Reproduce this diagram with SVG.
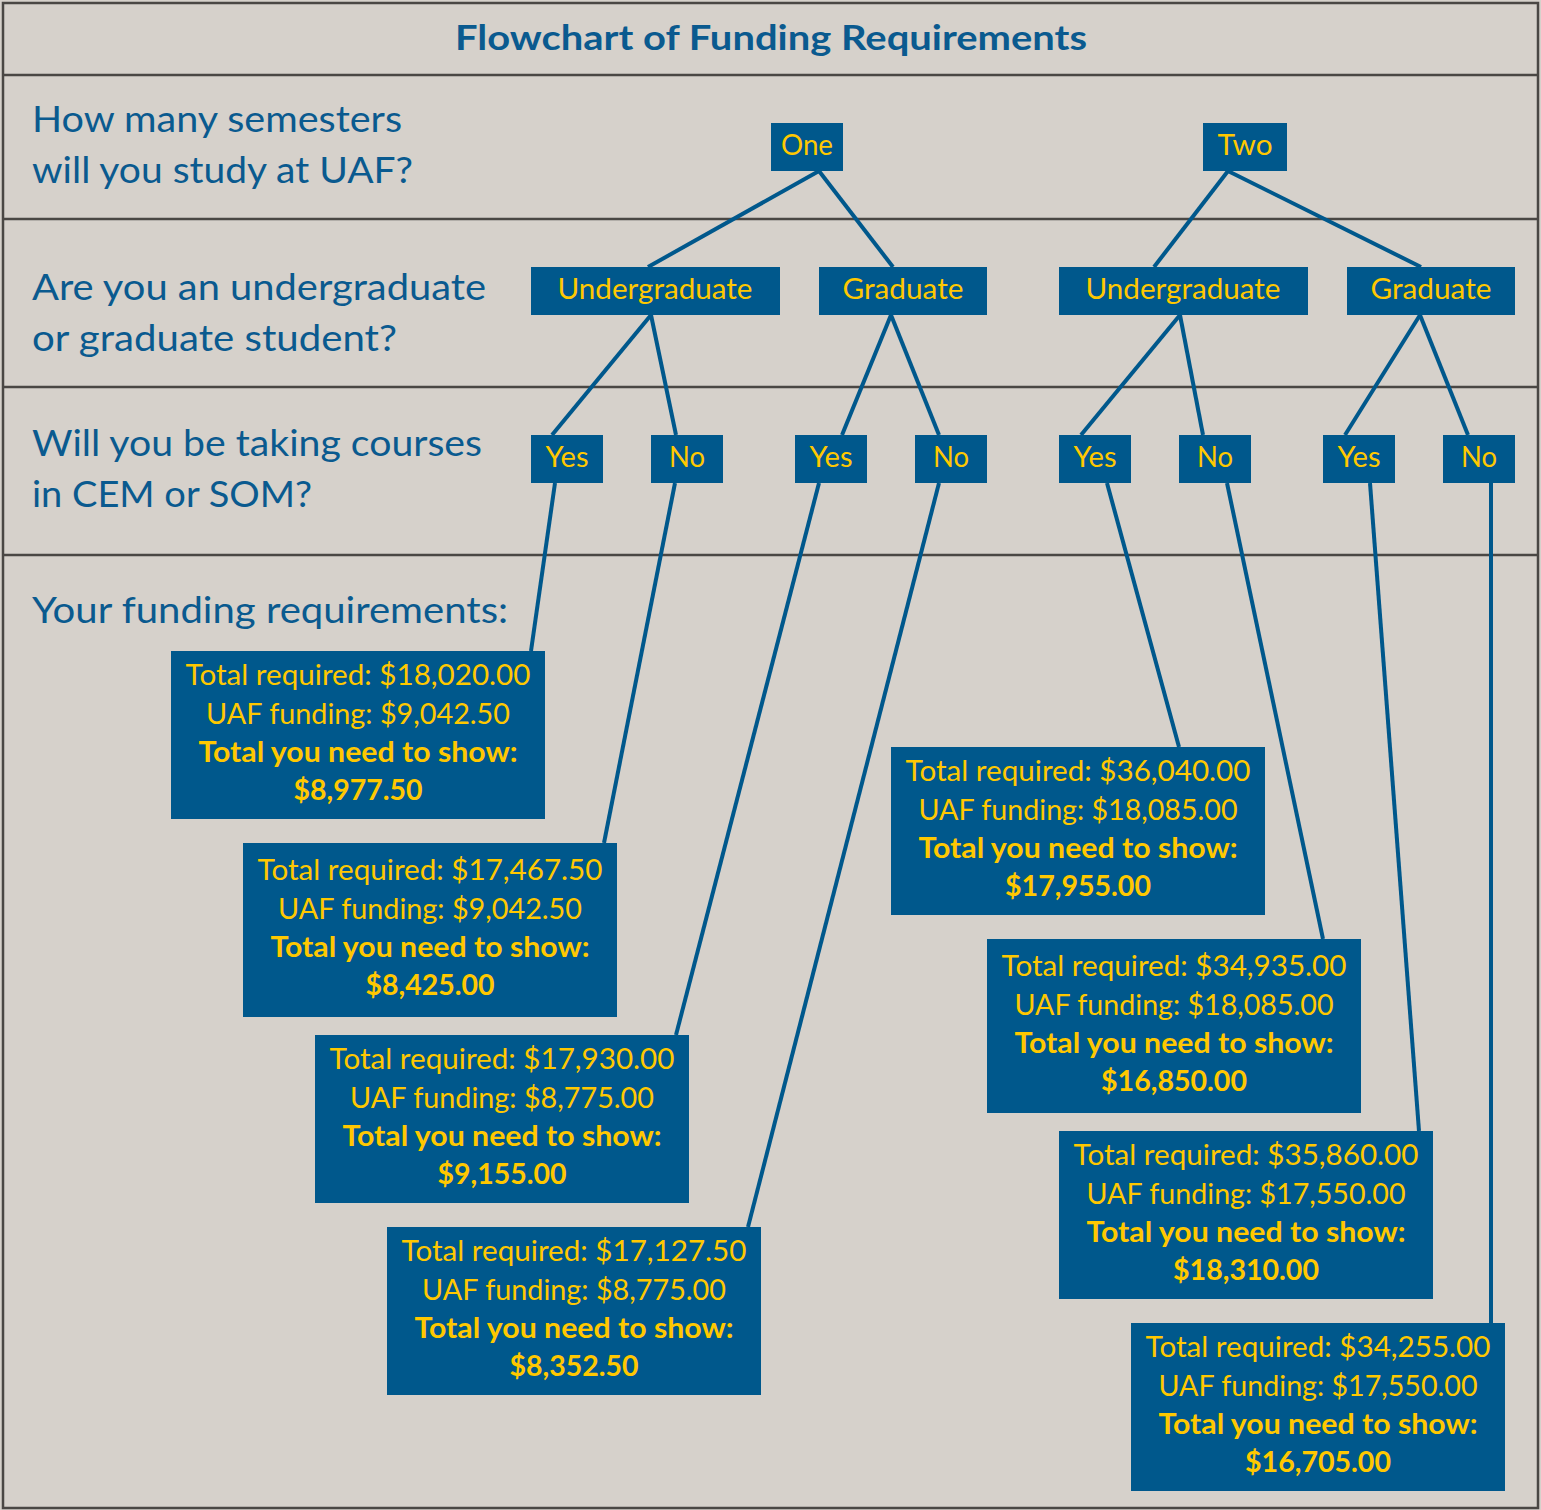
<svg xmlns="http://www.w3.org/2000/svg" width="1541" height="1510" viewBox="0 0 1541 1510">
<style>
.bg{fill:#D6D1CB}
.frame{fill:none;stroke:#4A4744;stroke-width:2.5}
.rule{stroke:#4A4744;stroke-width:2.5}
.box{fill:#00588C}
.lbl{font-family:Lato,"Liberation Sans",sans-serif;fill:#FFC800;font-size:29px;text-anchor:middle}
.b{font-weight:bold}
.q{font-family:Lato,"Liberation Sans",sans-serif;fill:#0A5A8F;font-size:36px}
.title{font-family:Lato,"Liberation Sans",sans-serif;fill:#0A5A8F;font-size:34px;font-weight:bold;text-anchor:middle}
.conn line{stroke:#00588C;stroke-width:4;stroke-linecap:butt}
</style>
<rect class="bg" x="0" y="0" width="1541" height="1510"/>
<rect class="frame" x="3" y="3" width="1535" height="1505"/>
<line class="rule" x1="3" y1="75" x2="1538" y2="75"/>
<line class="rule" x1="3" y1="219" x2="1538" y2="219"/>
<line class="rule" x1="3" y1="387" x2="1538" y2="387"/>
<line class="rule" x1="3" y1="555" x2="1538" y2="555"/>

<text class="title" x="771" y="50" textLength="632" lengthAdjust="spacingAndGlyphs">Flowchart of Funding Requirements</text>

<g id="questions">
<text class="q" x="32" y="132" textLength="370" lengthAdjust="spacingAndGlyphs">How many semesters</text>
<text class="q" x="32" y="183" textLength="381" lengthAdjust="spacingAndGlyphs">will you study at UAF?</text>
<text class="q" x="32" y="300" textLength="454" lengthAdjust="spacingAndGlyphs">Are you an undergraduate</text>
<text class="q" x="32" y="351" textLength="365" lengthAdjust="spacingAndGlyphs">or graduate student?</text>
<text class="q" x="32" y="456" textLength="450" lengthAdjust="spacingAndGlyphs">Will you be taking courses</text>
<text class="q" x="32" y="507" textLength="280" lengthAdjust="spacingAndGlyphs">in CEM or SOM?</text>
<text class="q" x="32" y="623" textLength="476" lengthAdjust="spacingAndGlyphs">Your funding requirements:</text>
</g>

<g id="connectors" class="conn">
<line x1="819" y1="171" x2="648" y2="267"/>
<line x1="819" y1="171" x2="893" y2="267"/>
<line x1="1228" y1="171" x2="1154" y2="267"/>
<line x1="1228" y1="171" x2="1421" y2="267"/>
<line x1="651" y1="315" x2="552" y2="435"/>
<line x1="651" y1="315" x2="676" y2="435"/>
<line x1="891" y1="315" x2="842" y2="435"/>
<line x1="891" y1="315" x2="939" y2="435"/>
<line x1="1180" y1="315" x2="1081" y2="435"/>
<line x1="1180" y1="315" x2="1203" y2="435"/>
<line x1="1420" y1="315" x2="1345" y2="435"/>
<line x1="1420" y1="315" x2="1468" y2="435"/>
<line x1="555" y1="483" x2="531" y2="651"/>
<line x1="675" y1="483" x2="604" y2="843"/>
<line x1="819" y1="483" x2="676" y2="1035"/>
<line x1="939" y1="483" x2="748" y2="1227"/>
<line x1="1107" y1="483" x2="1179" y2="747"/>
<line x1="1227" y1="483" x2="1323" y2="939"/>
<line x1="1370" y1="483" x2="1419" y2="1131"/>
<line x1="1491" y1="483" x2="1491" y2="1323"/>
</g>

<g id="n-one"><rect class="box" x="771" y="123" width="72" height="48"/><text class="lbl" x="807" y="155" textLength="52" lengthAdjust="spacingAndGlyphs">One</text></g>
<g id="n-two"><rect class="box" x="1203" y="123" width="84" height="48"/><text class="lbl" x="1245" y="155" textLength="55" lengthAdjust="spacingAndGlyphs">Two</text></g>

<g id="n-ug1"><rect class="box" x="531" y="267" width="249" height="48"/><text class="lbl" x="655" y="299" textLength="195" lengthAdjust="spacingAndGlyphs">Undergraduate</text></g>
<g id="n-g1"><rect class="box" x="819" y="267" width="168" height="48"/><text class="lbl" x="903" y="299" textLength="121" lengthAdjust="spacingAndGlyphs">Graduate</text></g>
<g id="n-ug2"><rect class="box" x="1059" y="267" width="249" height="48"/><text class="lbl" x="1183" y="299" textLength="195" lengthAdjust="spacingAndGlyphs">Undergraduate</text></g>
<g id="n-g2"><rect class="box" x="1347" y="267" width="168" height="48"/><text class="lbl" x="1431" y="299" textLength="121" lengthAdjust="spacingAndGlyphs">Graduate</text></g>

<g id="n-yes1"><rect class="box" x="531" y="435" width="72" height="48"/><text class="lbl" x="567" y="467" textLength="43" lengthAdjust="spacingAndGlyphs">Yes</text></g>
<g id="n-no1"><rect class="box" x="651" y="435" width="72" height="48"/><text class="lbl" x="687" y="467" textLength="36" lengthAdjust="spacingAndGlyphs">No</text></g>
<g id="n-yes2"><rect class="box" x="795" y="435" width="72" height="48"/><text class="lbl" x="831" y="467" textLength="43" lengthAdjust="spacingAndGlyphs">Yes</text></g>
<g id="n-no2"><rect class="box" x="915" y="435" width="72" height="48"/><text class="lbl" x="951" y="467" textLength="36" lengthAdjust="spacingAndGlyphs">No</text></g>
<g id="n-yes3"><rect class="box" x="1059" y="435" width="72" height="48"/><text class="lbl" x="1095" y="467" textLength="43" lengthAdjust="spacingAndGlyphs">Yes</text></g>
<g id="n-no3"><rect class="box" x="1179" y="435" width="72" height="48"/><text class="lbl" x="1215" y="467" textLength="36" lengthAdjust="spacingAndGlyphs">No</text></g>
<g id="n-yes4"><rect class="box" x="1323" y="435" width="72" height="48"/><text class="lbl" x="1359" y="467" textLength="43" lengthAdjust="spacingAndGlyphs">Yes</text></g>
<g id="n-no4"><rect class="box" x="1443" y="435" width="72" height="48"/><text class="lbl" x="1479" y="467" textLength="36" lengthAdjust="spacingAndGlyphs">No</text></g>

<g id="r1"><rect class="box" x="171" y="651" width="374" height="168"/>
<text class="lbl" x="358" y="685" textLength="345" lengthAdjust="spacingAndGlyphs">Total required: $18,020.00</text>
<text class="lbl" x="358" y="724" textLength="304" lengthAdjust="spacingAndGlyphs">UAF funding: $9,042.50</text>
<text class="lbl b" x="358" y="762" textLength="319" lengthAdjust="spacingAndGlyphs">Total you need to show:</text>
<text class="lbl b" x="358" y="800" textLength="129" lengthAdjust="spacingAndGlyphs">$8,977.50</text></g>

<g id="r2"><rect class="box" x="243" y="843" width="374" height="174"/>
<text class="lbl" x="430" y="880" textLength="345" lengthAdjust="spacingAndGlyphs">Total required: $17,467.50</text>
<text class="lbl" x="430" y="919" textLength="304" lengthAdjust="spacingAndGlyphs">UAF funding: $9,042.50</text>
<text class="lbl b" x="430" y="957" textLength="319" lengthAdjust="spacingAndGlyphs">Total you need to show:</text>
<text class="lbl b" x="430" y="995" textLength="129" lengthAdjust="spacingAndGlyphs">$8,425.00</text></g>

<g id="r3"><rect class="box" x="315" y="1035" width="374" height="168"/>
<text class="lbl" x="502" y="1069" textLength="345" lengthAdjust="spacingAndGlyphs">Total required: $17,930.00</text>
<text class="lbl" x="502" y="1108" textLength="304" lengthAdjust="spacingAndGlyphs">UAF funding: $8,775.00</text>
<text class="lbl b" x="502" y="1146" textLength="319" lengthAdjust="spacingAndGlyphs">Total you need to show:</text>
<text class="lbl b" x="502" y="1184" textLength="129" lengthAdjust="spacingAndGlyphs">$9,155.00</text></g>

<g id="r4"><rect class="box" x="387" y="1227" width="374" height="168"/>
<text class="lbl" x="574" y="1261" textLength="345" lengthAdjust="spacingAndGlyphs">Total required: $17,127.50</text>
<text class="lbl" x="574" y="1300" textLength="304" lengthAdjust="spacingAndGlyphs">UAF funding: $8,775.00</text>
<text class="lbl b" x="574" y="1338" textLength="319" lengthAdjust="spacingAndGlyphs">Total you need to show:</text>
<text class="lbl b" x="574" y="1376" textLength="129" lengthAdjust="spacingAndGlyphs">$8,352.50</text></g>

<g id="r5"><rect class="box" x="891" y="747" width="374" height="168"/>
<text class="lbl" x="1078" y="781" textLength="345" lengthAdjust="spacingAndGlyphs">Total required: $36,040.00</text>
<text class="lbl" x="1078" y="820" textLength="319" lengthAdjust="spacingAndGlyphs">UAF funding: $18,085.00</text>
<text class="lbl b" x="1078" y="858" textLength="319" lengthAdjust="spacingAndGlyphs">Total you need to show:</text>
<text class="lbl b" x="1078" y="896" textLength="146" lengthAdjust="spacingAndGlyphs">$17,955.00</text></g>

<g id="r6"><rect class="box" x="987" y="939" width="374" height="174"/>
<text class="lbl" x="1174" y="976" textLength="345" lengthAdjust="spacingAndGlyphs">Total required: $34,935.00</text>
<text class="lbl" x="1174" y="1015" textLength="319" lengthAdjust="spacingAndGlyphs">UAF funding: $18,085.00</text>
<text class="lbl b" x="1174" y="1053" textLength="319" lengthAdjust="spacingAndGlyphs">Total you need to show:</text>
<text class="lbl b" x="1174" y="1091" textLength="146" lengthAdjust="spacingAndGlyphs">$16,850.00</text></g>

<g id="r7"><rect class="box" x="1059" y="1131" width="374" height="168"/>
<text class="lbl" x="1246" y="1165" textLength="345" lengthAdjust="spacingAndGlyphs">Total required: $35,860.00</text>
<text class="lbl" x="1246" y="1204" textLength="319" lengthAdjust="spacingAndGlyphs">UAF funding: $17,550.00</text>
<text class="lbl b" x="1246" y="1242" textLength="319" lengthAdjust="spacingAndGlyphs">Total you need to show:</text>
<text class="lbl b" x="1246" y="1280" textLength="146" lengthAdjust="spacingAndGlyphs">$18,310.00</text></g>

<g id="r8"><rect class="box" x="1131" y="1323" width="374" height="168"/>
<text class="lbl" x="1318" y="1357" textLength="345" lengthAdjust="spacingAndGlyphs">Total required: $34,255.00</text>
<text class="lbl" x="1318" y="1396" textLength="319" lengthAdjust="spacingAndGlyphs">UAF funding: $17,550.00</text>
<text class="lbl b" x="1318" y="1434" textLength="319" lengthAdjust="spacingAndGlyphs">Total you need to show:</text>
<text class="lbl b" x="1318" y="1472" textLength="146" lengthAdjust="spacingAndGlyphs">$16,705.00</text></g>
</svg>
